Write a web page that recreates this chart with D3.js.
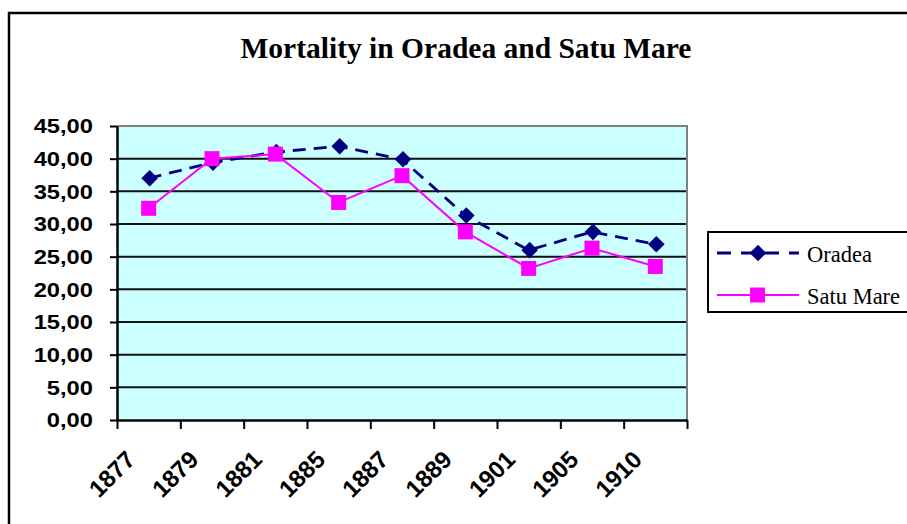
<!DOCTYPE html>
<html>
<head>
<meta charset="utf-8">
<script src="https://cdn.jsdelivr.net/npm/d3@7"></script>
<style>
  html, body { margin: 0; padding: 0; background: #fff; }
  svg { display: block; }
</style>
</head>
<body>
<svg id="chart" width="907" height="524"></svg>
<script>
const title = "Mortality in Oradea and Satu Mare";
const categories = ["1877", "1879", "1881", "1885", "1887", "1889", "1901", "1905", "1910"];
const oradea = [37.0, 39.4, 41.0, 41.9, 39.9, 31.3, 26.0, 28.8, 26.9];
const satuMare = [32.4, 40.0, 40.7, 33.3, 37.4, 28.8, 23.2, 26.3, 23.5];
const yTicks = [0, 5, 10, 15, 20, 25, 30, 35, 40, 45];
const seriesNames = ["Oradea", "Satu Mare"];

(function () {
const svg = d3.select("#chart");

// outer chart border
svg.append("rect")
  .attr("x", 9).attr("y", 13).attr("width", 905).attr("height", 520)
  .attr("fill", "#fff").attr("stroke", "#000").attr("stroke-width", 2.5);

const pLeft = 117, pRight = 687, pTop = 126, pBottom = 420;

const x = d3.scaleBand().domain(categories).range([pLeft, pRight]).paddingInner(0).paddingOuter(0);
const y = d3.scaleLinear().domain([0, 45]).range([pBottom, pTop]);

// plot background
svg.append("rect")
  .attr("x", pLeft).attr("y", pTop).attr("width", pRight - pLeft).attr("height", pBottom - pTop)
  .attr("fill", "#CCFFFF");

// grid lines
svg.append("g").selectAll("line")
  .data(yTicks.filter(d => d > 0 && d < 45))
  .join("line")
  .attr("x1", pLeft).attr("x2", pRight)
  .attr("y1", d => y(d)).attr("y2", d => y(d))
  .attr("stroke", "#111").attr("stroke-width", 2);

// plot border top/right (gray)
svg.append("path")
  .attr("d", `M${pLeft},${y(45)}H${pRight}V${pBottom}`)
  .attr("fill", "none").attr("stroke", "#808080").attr("stroke-width", 2);

// y axis
const yAxis = d3.axisLeft(y).tickValues(yTicks).tickSize(7).tickSizeOuter(0)
  .tickFormat(d => d.toFixed(2).replace(".", ","));
const gy = svg.append("g").attr("transform", `translate(${pLeft},0)`).call(yAxis);
gy.select(".domain").attr("stroke", "#000").attr("stroke-width", 2.5);
gy.selectAll(".tick line").attr("stroke", "#000").attr("stroke-width", 2);
gy.selectAll(".tick text")
  .attr("x", 0)
  .attr("transform", "translate(-24,0) scale(1.13,1)")
  .attr("font-family", "Liberation Sans, Arial, sans-serif")
  .attr("font-weight", "bold").attr("font-size", 21).attr("fill", "#000");

// x axis: boundary ticks
const xTickScale = d3.scaleLinear().domain([0, categories.length]).range([pLeft, pRight]);
const xTicksAxis = d3.axisBottom(xTickScale).ticks(categories.length).tickSize(9).tickSizeOuter(0).tickFormat("");
const gxt = svg.append("g").attr("transform", `translate(0,${pBottom})`).call(xTicksAxis);
gxt.select(".domain").attr("stroke", "#000").attr("stroke-width", 2.5);
gxt.selectAll(".tick line").attr("stroke", "#000").attr("stroke-width", 2);

// x axis: category labels
const xAxis = d3.axisBottom(x).tickSize(0).tickSizeOuter(0);
const gx = svg.append("g").attr("transform", `translate(0,${pBottom})`).call(xAxis);
gx.select(".domain").remove();
gx.selectAll(".tick text")
  .attr("x", 0).attr("y", 0).attr("dy", 0)
  .attr("text-anchor", "end")
  .attr("transform", "translate(-12,41) rotate(-45)")
  .attr("font-family", "Liberation Sans, Arial, sans-serif")
  .attr("font-weight", "bold").attr("font-size", 24).attr("fill", "#000");

const cx = c => x(c) + x.bandwidth() / 2;
const line = d3.line().x(d => cx(d.c)).y(d => y(d.v));
const oData = categories.map((c, i) => ({ c, v: oradea[i] }));
const sData = categories.map((c, i) => ({ c, v: satuMare[i] }));

const navy = "#000080", magenta = "#FF00FF";
const diamond = (px, py, r) => `M${px},${py - r}L${px + r},${py}L${px},${py + r}L${px - r},${py}Z`;

svg.append("path").datum(oData).attr("d", line)
  .attr("fill", "none").attr("stroke", navy).attr("stroke-width", 2.8).attr("stroke-dasharray", "13,8");
svg.append("path").datum(sData).attr("d", line)
  .attr("fill", "none").attr("stroke", magenta).attr("stroke-width", 2);

svg.append("g").selectAll("path").data(oData).join("path")
  .attr("d", d => diamond(cx(d.c) + 1, y(d.v), 8.3)).attr("fill", navy);
svg.append("g").selectAll("rect").data(sData).join("rect")
  .attr("x", d => cx(d.c) - 7.5).attr("y", d => y(d.v) - 7.5)
  .attr("width", 15).attr("height", 15).attr("fill", magenta);

// title
svg.append("text")
  .attr("x", 466).attr("y", 58).attr("text-anchor", "middle")
  .attr("font-family", "Liberation Serif, Times New Roman, serif")
  .attr("font-weight", "bold").attr("font-size", 29.5).attr("fill", "#000")
  .text(title);

// legend
const lg = svg.append("g");
lg.append("rect").attr("x", 708).attr("y", 232).attr("width", 220).attr("height", 80)
  .attr("fill", "#fff").attr("stroke", "#000").attr("stroke-width", 2);
const legendY = [253, 295];
lg.append("line").attr("x1", 717).attr("x2", 799).attr("y1", legendY[0]).attr("y2", legendY[0])
  .attr("stroke", navy).attr("stroke-width", 2.8).attr("stroke-dasharray", "14,10");
lg.append("path").attr("d", diamond(758, legendY[0], 8.3)).attr("fill", navy);
lg.append("line").attr("x1", 717).attr("x2", 799).attr("y1", legendY[1]).attr("y2", legendY[1])
  .attr("stroke", magenta).attr("stroke-width", 2);
lg.append("rect").attr("x", 750).attr("y", legendY[1] - 7.5).attr("width", 15).attr("height", 15).attr("fill", magenta);
lg.selectAll("text").data(seriesNames).join("text")
  .attr("x", 807).attr("y", (d, i) => legendY[i] + 8.5)
  .attr("font-family", "Liberation Serif, Times New Roman, serif")
  .attr("font-size", 22.5).attr("fill", "#000")
  .text(d => d);
})();
</script>
</body>
</html>
